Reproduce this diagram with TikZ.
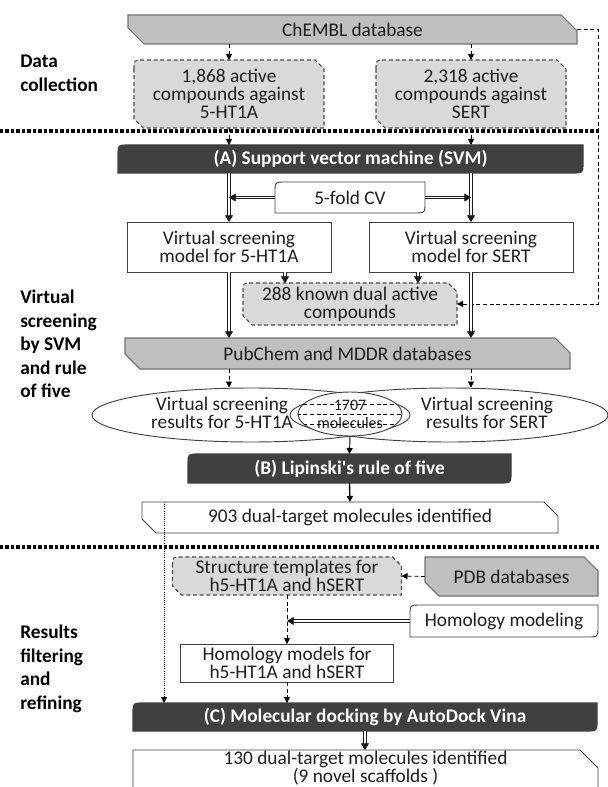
\documentclass[tikz,border=0pt]{standalone}
\usepackage{fontspec}
\setmainfont{Carlito}
\usepackage{tikz}
\usetikzlibrary{arrows.meta, calc, backgrounds, shapes.geometric}

\definecolor{bannergray}{HTML}{BFBFBF}
\definecolor{bardark}{HTML}{404040}
\definecolor{boxgray}{HTML}{D9D9D9}
\definecolor{ink}{HTML}{1E1E1E}

% outline: snip top right + bottom left
\newcommand\snipdiag[3]{%
  \path[#2] (#1.north west) -- ($(#1.north east)+(-#3,0)$) -- ($(#1.north east)+(0,#3)$)
    -- (#1.south east) -- ($(#1.south west)+(#3,0)$) -- ($(#1.south west)+(0,-#3)$) -- cycle;}
% outline: round top left + bottom right
\newcommand\rounddiag[3]{%
  \path[#2] ($(#1.north west)+(0,#3)$) .. controls (#1.north west) .. ($(#1.north west)+(#3,0)$)
    -- (#1.north east) -- ($(#1.south east)+(0,-#3)$) .. controls (#1.south east) .. ($(#1.south east)+(-#3,0)$)
    -- (#1.south west) -- cycle;}
% outline: round top left, snip top right + bottom left
\newcommand\roundsnip[3]{%
  \path[#2] ($(#1.north west)+(0,#3)$) .. controls (#1.north west) .. ($(#1.north west)+(#3,0)$)
    -- ($(#1.north east)+(-#3,0)$) -- ($(#1.north east)+(0,#3)$)
    -- (#1.south east) -- ($(#1.south west)+(#3,0)$) -- ($(#1.south west)+(0,-#3)$) -- cycle;}

\begin{document}
\begin{tikzpicture}[x=0.75pt, y=-0.75pt,
    boxsize/.style 2 args={minimum width=#1*0.75pt, minimum height=#2*0.75pt},
    plain/.style={inner sep=0pt, outer sep=0pt, align=center, text=ink,
      font=\fontsize{14.5}{13.5}\selectfont},
    bar/.style={plain, text=white, font=\fontsize{14.5}{13.5}\selectfont\bfseries},
    side/.style={anchor=west, align=left, inner sep=0pt, text=black,
      font=\fontsize{14.5}{17.6}\selectfont\bfseries},
    venn/.style={ellipse, draw=black!75, line width=0.7pt, inner sep=0pt},
    greyfill/.style={draw=black!55, fill=bannergray, line width=0.8pt},
    dashfill/.style={draw=black!70, fill=boxgray, densely dashed, line width=0.8pt},
    darkfill/.style={draw=bardark, fill=bardark, line width=0.8pt},
    whitefill/.style={draw=black!75, fill=white, line width=0.7pt},
    dashline/.style={-{Triangle[length=4.5pt,width=4.5pt]}, densely dashed, line width=0.6pt},
    dotline/.style={-{Triangle[length=4.5pt,width=4.5pt]}, densely dotted, line width=0.6pt},
    solidline/.style={-{Triangle[length=4.5pt,width=4.5pt]}, line width=0.7pt},
    dbl/.style={-{Triangle[length=5pt,width=6pt]}, draw=black!90, double=white,
      double distance=1.3pt, line width=0.6pt},
    sepline/.style={line width=2.8pt, dash pattern=on 2.6pt off 1.5pt}]

\useasboundingbox (0,0) rectangle (607,787);

% data collection
\node[plain, boxsize={449}{29}] (chembl) at (352.5,29.5) {ChEMBL database};
\node[plain, boxsize={190}{68}] (act1) at (229,94) {1,868 active\\compounds against\\5-HT1A};
\node[plain, boxsize={190}{68}] (act2) at (471,94) {2,318 active\\compounds against\\SERT};

% virtual screening
\node[bar, boxsize={465}{28}] (svm) at (350.5,159) {(A) Support vector machine (SVM)};
\node[plain, boxsize={150}{31}] (cv) at (350,197.5) {5-fold CV};
\node[plain, boxsize={204}{50}] (vs1) at (229,247) {Virtual screening\\model for 5-HT1A};
\node[plain, boxsize={204}{50}] (vs2) at (471,247) {Virtual screening\\model for SERT};
\node[plain, boxsize={214}{42}] (known) at (350,304) {288 known dual active\\compounds};
\node[plain, boxsize={445}{31}] (pub) at (347.5,353.5) {PubChem and MDDR databases};
\node[venn, boxsize={318}{54}] (res1) at (251,415) {};
\node[venn, boxsize={318}{54}] (res2) at (449,415) {};
\node[plain] (res1txt) at (222,413) {Virtual screening\\results for 5-HT1A};
\node[plain] (res2txt) at (487,413) {Virtual screening\\results for SERT};
\node[venn, fill=white, boxsize={104}{44}, text=ink,
  font=\fontsize{12}{13.5}\selectfont, align=center] (both) at (350,414) {1707\\molecules};
\node[bar, boxsize={323}{29}] (lip) at (349.5,468.5) {(B) Lipinski\textquotesingle s rule of five};
\node[plain, boxsize={416}{31}] (hits903) at (350,517.5) {903 dual-target molecules identified};

% filtering and refining
\node[plain, boxsize={229}{38}] (tmpl) at (287,576) {Structure templates for\\h5-HT1A and hSERT};
\node[plain, boxsize={173}{39}] (pdb) at (511.5,576.5) {PDB databases};
\node[plain, boxsize={188}{32}] (hommod) at (504,621) {Homology modeling};
\node[plain, boxsize={213}{38}] (hmodels) at (287,663) {Homology models for\\h5-HT1A and hSERT};
\node[bar, boxsize={464}{28}] (dock) at (365,717) {(C) Molecular docking by AutoDock Vina};
\node[plain, boxsize={465}{36}] (hits130) at (365.5,768) {130 dual-target molecules identified\\(9 novel scaffolds )};

% stage labels
\node[side] (lab1) at (20,73.5) {Data\\collection};
\node[side] (lab2) at (20,344) {Virtual\\screening\\by SVM\\and rule\\of five};
\node[side] (lab3) at (20,669) {Results\\filtering\\and\\refining};

\begin{scope}[on background layer]
  \snipdiag{chembl}{greyfill}{16}
  \roundsnip{act1}{dashfill}{9}
  \roundsnip{act2}{dashfill}{9}
  \rounddiag{svm}{darkfill}{10}
  \rounddiag{cv}{whitefill}{10}
  \path[whitefill] (vs1.north west) rectangle (vs1.south east);
  \path[whitefill] (vs2.north west) rectangle (vs2.south east);
  \roundsnip{known}{dashfill}{9}
  \snipdiag{pub}{greyfill}{15}
  \rounddiag{lip}{darkfill}{10}
  \snipdiag{hits903}{whitefill}{14}
  \roundsnip{tmpl}{dashfill}{9}
  \snipdiag{pdb}{greyfill}{14}
  \rounddiag{hommod}{whitefill}{10}
  \path[whitefill] (hmodels.north west) rectangle (hmodels.south east);
  \rounddiag{dock}{darkfill}{10}
  \path[whitefill] (hits130.north west) -- ($(hits130.north east)+(-18,0)$)
    -- ($(hits130.north east)+(0,18)$) -- ($(hits130.south east)+(0,20)$)
    -- ($(hits130.south west)+(20,20)$) -- ($(hits130.south west)+(0,4)$) -- cycle;
\end{scope}

% lens pattern
\begin{scope}
  \clip (both.center) ellipse [x radius=39pt, y radius=16.5pt];
  \foreach \yy in {404,414,424}
    \draw[densely dashed, line width=0.5pt] (290,\yy) -- (410,\yy);
\end{scope}

% separators
\draw[sepline] (0,131) -- (600,131);
\draw[sepline] (0,547) -- (600,547);

\coordinate (k1) at ($(vs1.south)+(56,0)$);
\coordinate (k2) at ($(vs2.south)+(-53,0)$);
\coordinate (dtop) at (164,502);

\path[dashline]
  (chembl.south -| act1) edge (act1.north)
  (chembl.south -| act2) edge (act2.north)
  (act1.south) edge (act1.south |- svm.north)
  (act2.south) edge (act2.south |- svm.north)
  (pub.south -| vs1) edge (res1.north -| vs1)
  (pub.south -| vs2) edge (res2.north -| vs2)
  (pdb.west) edge (tmpl.east)
  (tmpl.south) edge (hmodels.north)
  (hmodels.south) edge (hmodels.south |- dock.north);
\draw[dashline] (chembl.east) -- ++(21,0) |- (known.east);

\draw[dbl] (svm.south -| vs1) -- (vs1.north);
\draw[dbl] (svm.south -| vs2) -- (vs2.north);
\draw[dbl] (cv.west) -- (cv.west -| vs1);
\draw[dbl] (cv.east) -- (cv.east -| vs2);
\draw[dbl] (k1) -- (k1 |- known.north);
\draw[dbl] (k2) -- (k2 |- known.north);
\draw[dbl] (vs1.south) -- (vs1.south |- pub.north);
\draw[dbl] (vs2.south) -- (vs2.south |- pub.north);
\draw[dbl] (hommod.west) -- (hommod.west -| tmpl);
\draw[dbl] (dock.south) -- (dock.south |- hits130.north);

\draw[solidline] (both.south) -- (lip.north);
\draw[solidline, line width=1pt] (lip.south) -- (hits903.north);
\draw[dotline] (dtop) -- (dtop |- dock.north);

\end{tikzpicture}
\end{document}
